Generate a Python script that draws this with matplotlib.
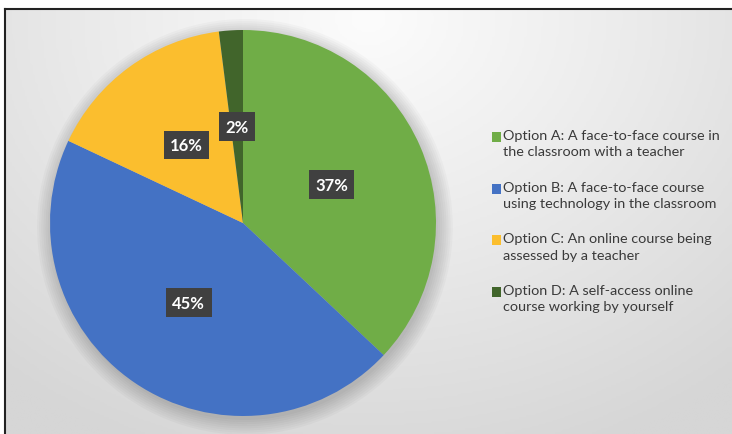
import numpy as np
import matplotlib.pyplot as plt
from matplotlib.colors import LinearSegmentedColormap
from matplotlib.patches import Rectangle, Circle

labels = ["Option A: A face-to-face course in\nthe classroom with a teacher",
          "Option B: A face-to-face course\nusing technology in the classroom",
          "Option C: An online course being\nassessed by a teacher",
          "Option D: A self-access online\ncourse working by yourself"]
values = [37, 45, 16, 2]
colors = ["#70AD47", "#4472C4", "#FBBE2E", "#41652B"]

W, H = 732, 435
fig = plt.figure(figsize=(W / 100, H / 100), dpi=100)
fig.patch.set_facecolor("white")

# background panel with soft radial gradient
bg = fig.add_axes([5 / W, 0, 1 - 5 / W, (H - 10) / H])
yy, xx = np.mgrid[0:1:200j, 0:1:300j]
d = np.sqrt(((xx - 0.5) * 1.4) ** 2 + ((yy - 0.02) * 1.0) ** 2)
cmap = LinearSegmentedColormap.from_list("bg", ["#FCFCFC", "#EAEAEA", "#D6D6D6"])
bg.imshow(d, cmap=cmap, aspect="auto", extent=[0, 1, 1, 0], vmin=0, vmax=1.1)
bg.set_xlim(0, 1)
bg.set_ylim(1, 0)
bg.set_xticks([])
bg.set_yticks([])
for side in ["right", "bottom"]:
    bg.spines[side].set_visible(False)
for side in ["top", "left"]:
    bg.spines[side].set_linewidth(1.5)
    bg.spines[side].set_color("#222222")

# pie
cx, cy, r = 243, 224, 193
ax = fig.add_axes([(cx - r) / W, (H - cy - r) / H, 2 * r / W, 2 * r / H])
ax.patch.set_visible(False)
# soft shadow under the pie
for k in range(8):
    ax.add_patch(Circle((0.01, -0.02), 1.0 + 0.011 * k, color="black",
                        alpha=0.022, lw=0, zorder=0, clip_on=False))
wedges, texts, autotexts = ax.pie(
    values, colors=colors, startangle=90, counterclock=False,
    autopct="%d%%", pctdistance=0.5, radius=1.0,
    wedgeprops=dict(linewidth=0),
    textprops=dict(color="white", fontsize=12, fontweight="bold", family="Lato"))
for t in autotexts:
    t.set_bbox(dict(boxstyle="square,pad=0.38", facecolor="#404040", edgecolor="none"))
ax.set_xlim(-1, 1)
ax.set_ylim(-1, 1)

# legend, marker beside the first line of each entry
first_y = 138
step = 51.7
for i, (lab, col) in enumerate(zip(labels, colors)):
    y = first_y + i * step
    fig.patches.append(Rectangle((492 / W, (H - y - 5) / H), 9 / W, 10 / H,
                                 facecolor=col, edgecolor="none",
                                 transform=fig.transFigure, figure=fig))
    fig.text(503 / W, (H - y + 8) / H, lab, ha="left", va="top",
             family="Lato", fontsize=10.4, color="#3A3A3A", linespacing=1.42)

fig.savefig("out.png", dpi=100)
